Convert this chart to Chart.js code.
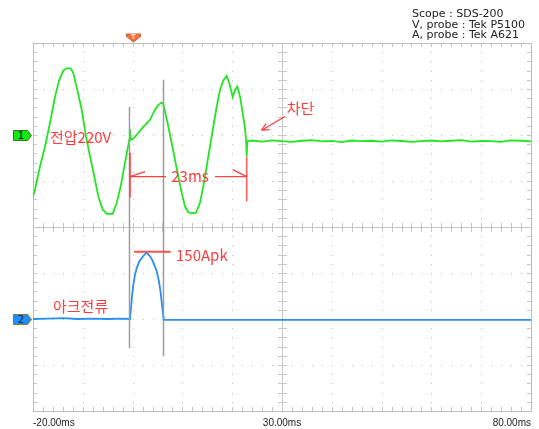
<!DOCTYPE html>
<html>
<head>
<meta charset="utf-8">
<script src="https://cdn.jsdelivr.net/npm/chart.js@4.4.1/dist/chart.umd.min.js"></script>
<style>
  html, body { margin: 0; padding: 0; background: #ffffff; }
  #wrap { width: 539px; height: 429px; }
</style>
</head>
<body>
<div id="wrap"><canvas id="scope" width="539" height="429"></canvas></div>
<script>
// ---- Channel 1: line voltage (V) ----
const voltTime = [
  -20, -19.6, -18.59, -17.59, -16.59, -15.58, -14.72, -13.92, -13.23, -12.43,
  -11.91, -11.1, -10.22, -9.36, -8.55, -7.69, -6.89, -6.0, -5.2, -4.0,
  -3.19, -2.39, -1.53, -0.66, -0.56, -0.32, 0.14, 0.82, 2.15, 3.49,
  4.5, 5.16, 5.84, 6.16, 6.51, 7.17, 7.85, 8.51, 9.18, 9.86,
  10.52, 11.18, 11.87, 12.73, 13.53, 14.2, 14.88, 15.54, 16.2, 16.89,
  17.55, 18.21, 18.89, 19.42, 20.1, 20.56, 21.02, 21.57, 22.11, 22.57,
  22.77, 22.91, 23.03,
  24, 26, 28, 30, 32, 34, 36, 38, 40, 42, 44, 46, 48, 50, 52, 54, 56, 58,
  60, 62, 64, 66, 68, 70, 72, 74, 76, 78, 80
];
const voltValue = [
  -239, -210, -109, -23, 79, 194, 267, 307, 317, 317,
  296, 223, 137, 21, -66, -153, -239, -297, -316, -316,
  -268, -196, -94, 7, 53, 7, 11, 28, 62, 93,
  137, 158, 168, 163, 129, 64, -8, -80, -153, -225,
  -283, -309, -314, -311, -268, -196, -109, -23, 64, 151,
  223, 264, 284, 252, 192, 223, 238, 194, 122, 57,
  7, -66, 0,
  3, -2, 4, 0, -3, 2, 5, -1, 1, -4, 3, 0, 2, -2, 4, 1, -3, 0,
  3, -1, 2, 5, -2, 1, 0, -3, 4, 2, -1
];

// ---- Channel 2: arc current (A) ----
const currTime = [
  -20, -17, -14, -11, -8, -5, -2, -0.6,
  -0.52, -0.32, -0.12, 0.14, 0.48, 0.82, 1.34, 1.83, 2.35, 2.83,
  3.35, 3.84, 4.3, 4.84, 5.3, 5.64, 5.9, 6.16, 6.26,
  10, 20, 30, 40, 50, 60, 70, 80
];
const currValue = [
  0, 1, 2, 0, 1, 0, 1, 0,
  0, 25, 51, 77, 100, 115, 130, 138, 145, 150,
  144, 136, 124, 108, 85, 59, 32, 6, -2,
  -2, -2, -2, -2, -2, -2, -2, -2
];

// ---- Time axis labels and cursor / annotation values ----
const xTickValues = [-20, 30, 80];
const cursorTimes = [-0.66, 6.16];
const arcStartTime = -0.52;
const breakTime = 22.91;
const peakCurrent = 150;
const infoLines = ['Scope : SDS-200', 'V, probe : Tek P5100', 'A, probe : Tek A621'];

// scope settings: time base and vertical sensitivity
const T_MIN = -20, T_MAX = 80, T_DIV = 10;
const V_PER_DIV = 200, V_ZERO_DIV = 1.865;
const A_PER_DIV = 104, A_ZERO_DIV = -2;
const DIVS = 4;

const RED = '#ff3c3c';
const KR_FONT = '15px "Noto Sans CJK KR", "Noto Sans", sans-serif';

function toPoints(ts, vs) { return ts.map((t, i) => ({ x: t, y: vs[i] })); }

// graticule: border, dotted divisions, centre cross and minor ticks
const graticule = {
  id: 'graticule',
  beforeDatasetsDraw(chart) {
    const { ctx, chartArea: a, scales } = chart;
    const x = scales.x, d = scales.yDiv;
    const L = Math.round(a.left), R = Math.round(a.right);
    const T = Math.round(a.top), B = Math.round(a.bottom);
    const xs = [], ys = [];
    for (let i = 0; i <= (T_MAX - T_MIN) / T_DIV * 5; i++) xs.push(Math.round(x.getPixelForValue(T_MIN + i * T_DIV / 5)));
    for (let i = 0; i <= DIVS * 2 * 5; i++) ys.push(Math.round(d.getPixelForValue(-DIVS + i / 5)));
    const cx = Math.round(x.getPixelForValue((T_MIN + T_MAX) / 2));
    const cy = Math.round(d.getPixelForValue(0));
    ctx.save();
    // dotted division lines
    ctx.fillStyle = '#bdbdbd';
    for (let i = 1; i < (T_MAX - T_MIN) / T_DIV; i++) {
      const px = Math.round(x.getPixelForValue(T_MIN + i * T_DIV));
      if (px === cx) continue;
      ys.forEach(py => ctx.fillRect(px, py, 1, 1));
    }
    for (let k = -DIVS + 1; k < DIVS; k++) {
      if (k === 0) continue;
      const py = Math.round(d.getPixelForValue(k));
      xs.forEach(px => ctx.fillRect(px, py, 1, 1));
    }
    ctx.strokeStyle = '#c6c6c6';
    ctx.lineWidth = 1;
    ctx.beginPath();
    // centre cross
    ctx.moveTo(L, cy + 0.5); ctx.lineTo(R, cy + 0.5);
    ctx.moveTo(cx + 0.5, T); ctx.lineTo(cx + 0.5, B);
    // minor ticks on centre lines and border
    xs.forEach(px => {
      ctx.moveTo(px + 0.5, cy - 4); ctx.lineTo(px + 0.5, cy + 5);
      ctx.moveTo(px + 0.5, T); ctx.lineTo(px + 0.5, T + 4);
      ctx.moveTo(px + 0.5, B); ctx.lineTo(px + 0.5, B - 4);
    });
    ys.forEach(py => {
      ctx.moveTo(cx - 4, py + 0.5); ctx.lineTo(cx + 5, py + 0.5);
      ctx.moveTo(L, py + 0.5); ctx.lineTo(L + 4, py + 0.5);
      ctx.moveTo(R, py + 0.5); ctx.lineTo(R - 4, py + 0.5);
    });
    ctx.stroke();
    ctx.strokeStyle = '#bcbcbc';
    ctx.strokeRect(L + 0.5, T + 0.5, R - L, B - T);
    ctx.restore();
  }
};

function line(ctx, x1, y1, x2, y2) { ctx.beginPath(); ctx.moveTo(x1, y1); ctx.lineTo(x2, y2); ctx.stroke(); }

// cursors, labels and channel markers
const overlays = {
  id: 'overlays',
  afterDatasetsDraw(chart) {
    const { ctx, scales } = chart;
    const x = scales.x, yv = scales.yVolt, ya = scales.yAmp, d = scales.yDiv;
    ctx.save();
    // time cursors
    ctx.strokeStyle = '#9c9c9c';
    ctx.lineWidth = 1.5;
    const cursorSpan = [[2.61, -2.63], [3.2, -2.81]];
    cursorTimes.forEach((t, i) => {
      const px = Math.round(x.getPixelForValue(t)) + 0.5;
      line(ctx, px, d.getPixelForValue(cursorSpan[i][0]), px, d.getPixelForValue(cursorSpan[i][1]));
    });

    ctx.strokeStyle = RED;
    ctx.fillStyle = RED;
    ctx.lineWidth = 1.2;
    ctx.font = KR_FONT;
    ctx.textBaseline = 'middle';
    ctx.textAlign = 'left';

    // voltage label
    ctx.fillText('전압220V', x.getPixelForValue(-16.59), yv.getPixelForValue(19));

    // 23 ms interval between arc start and break
    const xa = x.getPixelForValue(arcStartTime), xb = x.getPixelForValue(breakTime);
    const ym = yv.getPixelForValue(-154);
    ctx.lineWidth = 1.5;
    line(ctx, xa, yv.getPixelForValue(-50), xa, yv.getPixelForValue(-245));
    ctx.strokeStyle = '#ff5a5a';
    line(ctx, xb, yv.getPixelForValue(-67), xb, yv.getPixelForValue(-262));
    ctx.strokeStyle = RED;
    ctx.lineWidth = 1.2;
    line(ctx, xa, ym, x.getPixelForValue(6.71), ym);
    line(ctx, x.getPixelForValue(16.55), ym, xb, ym);
    line(ctx, xa, ym, xa + 15, ym - 5);
    line(ctx, xb, ym, xb - 14, ym - 7);
    ctx.textAlign = 'center';
    ctx.fillText(Math.round(breakTime - arcStartTime) + 'ms', x.getPixelForValue(11.53), ym);

    // break label with arrow
    ctx.textAlign = 'left';
    ctx.fillText('차단', x.getPixelForValue(30.94), yv.getPixelForValue(145));
    const ax1 = x.getPixelForValue(30.6), ay1 = yv.getPixelForValue(107);
    const ax2 = x.getPixelForValue(25.9), ay2 = yv.getPixelForValue(48);
    line(ctx, ax1, ay1, ax2, ay2);
    const ang = Math.atan2(ay1 - ay2, ax1 - ax2);
    [0.45, -0.45].forEach(o => line(ctx, ax2, ay2, ax2 + 8 * Math.cos(ang + o), ay2 + 8 * Math.sin(ang + o)));

    // current peak
    const yp = ya.getPixelForValue(peakCurrent);
    ctx.lineWidth = 2;
    ctx.strokeStyle = '#ff5050';
    line(ctx, x.getPixelForValue(0.28), yp - 1, x.getPixelForValue(7.65), yp - 1);
    ctx.fillText(peakCurrent + 'Apk', x.getPixelForValue(8.72), ya.getPixelForValue(145));
    ctx.fillText('아크전류', x.getPixelForValue(-15.98), ya.getPixelForValue(28));
    ctx.restore();
  },
  afterDraw(chart) {
    const { ctx, scales } = chart;
    const x = scales.x, d = scales.yDiv;
    ctx.save();
    // channel ground markers
    const marker = (cy, fill, edge, label, txt) => {
      cy = Math.round(cy) + 0.5;
      ctx.beginPath();
      ctx.moveTo(13.5, cy - 5); ctx.lineTo(27.5, cy - 5); ctx.lineTo(31.5, cy);
      ctx.lineTo(27.5, cy + 5); ctx.lineTo(13.5, cy + 5); ctx.closePath();
      ctx.fillStyle = fill; ctx.fill();
      ctx.strokeStyle = edge; ctx.lineWidth = 1; ctx.stroke();
      ctx.fillStyle = txt;
      ctx.font = '10px "DejaVu Sans", sans-serif';
      ctx.textAlign = 'center'; ctx.textBaseline = 'middle';
      ctx.fillText(label, 21, cy + 0.5);
    };
    marker(d.getPixelForValue(2), '#16e616', '#2f7a1f', '1', '#000');
    marker(d.getPixelForValue(-2), '#1e8fff', '#7d7a22', '2', '#0a1a40');

    // trigger marker
    const tx = Math.round(x.getPixelForValue(0)) + 0.5;
    ctx.beginPath();
    ctx.moveTo(tx - 7, 34); ctx.lineTo(tx + 7, 34); ctx.lineTo(tx + 7, 36.5);
    ctx.lineTo(tx, 42); ctx.lineTo(tx - 7, 36.5); ctx.closePath();
    ctx.fillStyle = '#f4733f'; ctx.fill();
    ctx.strokeStyle = '#c9582c'; ctx.lineWidth = 1; ctx.stroke();
    ctx.fillStyle = '#ffe0d0';
    ctx.font = 'bold 7px "DejaVu Sans", sans-serif';
    ctx.textAlign = 'center'; ctx.textBaseline = 'middle';
    ctx.fillText('T', tx, 37);

    // instrument info
    ctx.fillStyle = '#222';
    ctx.font = '11px "DejaVu Sans", sans-serif';
    ctx.textAlign = 'left'; ctx.textBaseline = 'alphabetic';
    infoLines.forEach((s, i) => ctx.fillText(s, 412, 17 + i * 10.5));
    ctx.restore();
  }
};

new Chart(document.getElementById('scope'), {
  type: 'line',
  data: {
    datasets: [
      {
        label: 'CH1 voltage', data: toPoints(voltTime, voltValue), yAxisID: 'yVolt',
        borderColor: '#22e622', borderWidth: 1.8, pointRadius: 0, tension: 0, fill: false
      },
      {
        label: 'CH2 current', data: toPoints(currTime, currValue), yAxisID: 'yAmp',
        borderColor: '#2a8ef2', borderWidth: 1.8, pointRadius: 0, tension: 0, fill: false
      }
    ]
  },
  options: {
    responsive: false,
    animation: false,
    devicePixelRatio: 1,
    layout: { padding: { left: 33, right: 8, top: 43, bottom: -6 } },
    plugins: { legend: { display: false }, tooltip: { enabled: false } },
    scales: {
      x: {
        type: 'linear', min: T_MIN, max: T_MAX,
        grid: { display: false, drawTicks: false },
        border: { display: false },
        afterBuildTicks: s => { s.ticks = xTickValues.map(v => ({ value: v })); },
        ticks: {
          align: 'inner', autoSkip: false, maxRotation: 0, padding: 6,
          color: '#222', font: { family: 'Liberation Sans', size: 10 },
          callback: v => v.toFixed(2) + 'ms'
        }
      },
      yVolt: {
        type: 'linear', display: false,
        min: (-DIVS - V_ZERO_DIV) * V_PER_DIV, max: (DIVS - V_ZERO_DIV) * V_PER_DIV
      },
      yAmp: {
        type: 'linear', display: false,
        min: (-DIVS - A_ZERO_DIV) * A_PER_DIV, max: (DIVS - A_ZERO_DIV) * A_PER_DIV
      },
      yDiv: { type: 'linear', display: false, min: -DIVS, max: DIVS }
    }
  },
  plugins: [graticule, overlays]
});
</script>
</body>
</html>
